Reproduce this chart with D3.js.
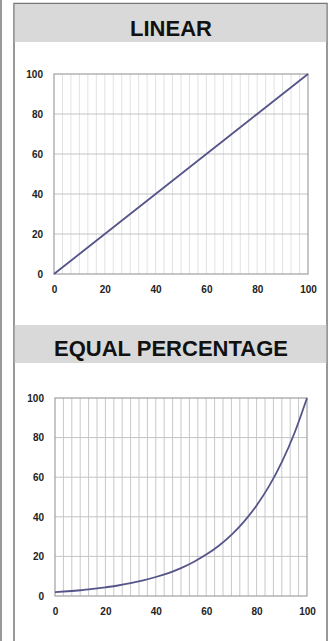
<!DOCTYPE html>
<html><head><meta charset="utf-8">
<script src="https://cdn.jsdelivr.net/npm/d3@7"></script>
<style>html,body{margin:0;padding:0;background:#fff;}svg{display:block;}</style>
</head><body>
<script>
const titles = ["LINEAR", "EQUAL PERCENTAGE"];
const xTicks = [0, 20, 40, 60, 80, 100];
const yTicks = [0, 20, 40, 60, 80, 100];
const travel = [0,5,10,15,20,25,30,35,40,45,50,55,60,65,70,75,80,85,90,95,100];
const linearFlow = [0,5,10,15,20,25,30,35,40,45,50,55,60,65,70,75,80,85,90,95,100];
const eqPctFlow = [2.0,2.4,2.9,3.6,4.4,5.3,6.5,7.9,9.6,11.6,14.1,17.2,20.9,25.4,30.9,37.6,45.7,55.6,67.6,82.2,100];
const minorX = d3.range(0, 101, 10/3);

const W = 334, H = 641;
const svg = d3.select("body").append("svg").attr("width", W).attr("height", H);

// outer lines
svg.append("line").attr("x1",1).attr("x2",1).attr("y1",0).attr("y2",H).attr("stroke","#777").attr("stroke-width",1.5);
svg.append("path").attr("d",`M14,${H} L14,3.5 L327,3.5 L327,${H}`).attr("fill","none").attr("stroke","#777").attr("stroke-width",1.5);

const panels = [
  {title: titles[0], bandY: 4, bandH: 38, baseline: 36, top: 74, bottom: 274, left: 54, right: 308, data: linearFlow, vgrid: "#e2e2e2"},
  {title: titles[1], bandY: 325, bandH: 38, baseline: 356, top: 398, bottom: 596, left: 55, right: 307, data: eqPctFlow, vgrid: "#c8c8c8"}
];

panels.forEach(p => {
  svg.append("rect").attr("x",14.75).attr("y",p.bandY).attr("width",311.5).attr("height",p.bandH).attr("fill","#d9d9d9");
  svg.append("text").attr("x",171).attr("y",p.baseline).attr("text-anchor","middle")
    .attr("font-family","Liberation Sans, Arial, sans-serif").attr("font-weight","bold").attr("font-size",22)
    .attr("fill","#111").text(p.title);

  const x = d3.scaleLinear().domain([0,100]).range([p.left, p.right]);
  const y = d3.scaleLinear().domain([0,100]).range([p.bottom, p.top]);
  const g = svg.append("g");

  // minor vertical grid
  g.selectAll(".vg").data(minorX.slice(1, -1)).enter().append("line")
    .attr("x1", d => x(d)).attr("x2", d => x(d)).attr("y1", p.top).attr("y2", p.bottom)
    .attr("stroke", p.vgrid).attr("stroke-width", 1);
  // horizontal grid
  g.selectAll(".hg").data(yTicks.slice(1, -1)).enter().append("line")
    .attr("x1", p.left).attr("x2", p.right).attr("y1", d => y(d)).attr("y2", d => y(d))
    .attr("stroke", "#c4c4c4").attr("stroke-width", 1);
  // box
  g.append("rect").attr("x", p.left).attr("y", p.top).attr("width", p.right - p.left).attr("height", p.bottom - p.top)
    .attr("fill","none").attr("stroke","#a0a0a0").attr("stroke-width",1.2);

  const yAxis = d3.axisLeft(y).tickValues(yTicks).tickSize(0).tickPadding(11);
  const xAxis = d3.axisBottom(x).tickValues(xTicks).tickSize(0).tickPadding(12);
  const ya = g.append("g").attr("transform", `translate(${p.left},0)`).call(yAxis);
  const xa = g.append("g").attr("transform", `translate(0,${p.bottom})`).call(xAxis);
  [ya, xa].forEach(a => {
    a.select(".domain").remove();
    a.selectAll("text").attr("font-family","Liberation Sans, Arial, sans-serif").attr("font-weight","bold")
      .attr("font-size",10).attr("fill","#222");
  });

  const line = d3.line().x((d,i) => x(travel[i])).y(d => y(d)).curve(d3.curveMonotoneX);
  g.append("path").datum(p.data).attr("d", line).attr("fill","none")
    .attr("stroke","#55558a").attr("stroke-width",1.8);
});
</script>
</body></html>
